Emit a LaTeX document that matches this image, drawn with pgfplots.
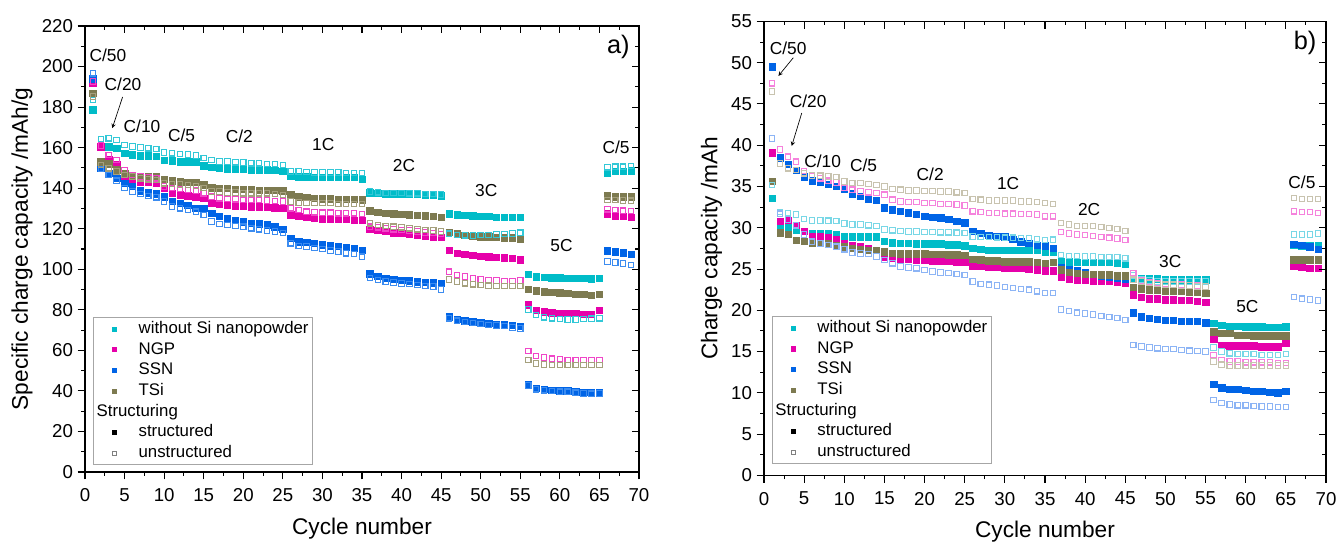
\documentclass[border=0pt]{standalone}
\usepackage{pgfplots}
\pgfplotsset{compat=1.18}
\usepackage{pgfplotstable}
\usepackage{fontspec}
\setmainfont{Liberation Sans}

\definecolor{cTF}{RGB}{0,188,200}
\definecolor{cNF}{RGB}{230,0,170}
\definecolor{cSF}{RGB}{0,100,230}
\definecolor{cTSF}{RGB}{125,122,80}
\definecolor{cTOa}{RGB}{50,200,215}
\definecolor{cNOa}{RGB}{240,70,200}
\definecolor{cSOa}{RGB}{60,140,240}
\definecolor{cTSOa}{RGB}{165,160,125}
\definecolor{cTOb}{RGB}{120,215,230}
\definecolor{cNOb}{RGB}{245,130,220}
\definecolor{cSOb}{RGB}{140,180,245}
\definecolor{cTSOb}{RGB}{200,195,175}

\pgfplotstableread{
c TF TO NF NO SF SO TSF TSO
1 178.6 183.5 191.8 192.6 193.9 196.7 186.8 185.2
2 160.5 164.3 160.5 161.0 149.8 149.5 153.1 151.5
3 160.5 164.6 154.3 156.4 147.4 146.5 152.0 149.8
4 159.7 163.8 151.5 153.9 144.9 143.7 149.0 148.2
5 157.2 161.3 144.9 149.0 142.4 140.0 147.4 146.5
6 156.4 160.5 144.4 146.5 140.8 138.3 146.5 145.7
7 155.9 160.0 143.2 145.7 138.8 137.2 146.0 144.9
8 155.9 159.7 142.8 145.2 137.8 136.2 146.0 144.4
9 155.6 159.4 142.4 144.9 137.2 135.5 146.0 144.1
10 153.9 157.6 140.0 140.8 135.8 133.4 144.4 142.4
11 153.6 157.2 137.5 140.0 133.4 130.9 143.7 142.1
12 153.1 156.9 136.7 139.5 132.6 130.1 143.2 141.8
13 153.1 156.6 136.2 139.1 131.7 129.3 142.9 141.6
14 153.1 156.2 135.8 138.8 130.1 128.4 142.9 141.1
15 151.1 154.8 135.0 137.5 130.1 126.8 141.6 140.0
16 150.3 153.9 132.6 135.8 127.6 123.5 140.3 138.3
17 149.8 153.1 132.1 135.0 126.0 122.4 140.0 138.3
18 149.5 153.1 131.7 134.7 125.2 121.9 140.0 137.8
19 149.3 152.8 131.4 134.5 124.3 121.4 139.6 137.8
20 149.3 152.6 131.2 134.2 123.5 121.0 139.6 137.5
21 149.0 152.3 130.9 134.2 122.7 120.2 139.5 137.5
22 149.0 152.3 130.9 134.2 122.4 119.7 139.1 137.5
23 149.0 152.0 130.6 133.9 121.9 119.1 139.1 137.5
24 148.7 152.0 130.4 133.7 121.0 118.6 139.1 137.2
25 148.2 151.5 130.1 133.4 119.7 117.8 138.8 136.7
26 146.0 148.2 126.8 130.1 115.3 112.8 136.7 133.4
27 145.7 148.2 126.0 129.3 113.6 111.5 135.8 132.9
28 145.7 147.9 125.6 128.4 113.2 111.2 135.4 132.6
29 145.4 147.7 125.2 128.1 112.8 110.4 135.0 132.6
30 145.4 147.7 124.8 127.9 112.0 109.9 134.7 132.6
31 145.4 147.7 124.7 127.9 111.5 109.2 134.7 132.6
32 145.4 147.7 124.7 127.6 111.2 108.7 134.5 132.2
33 145.4 147.4 124.7 127.6 110.8 107.9 134.5 132.2
34 145.4 147.4 124.3 127.6 110.4 107.6 134.5 132.2
35 144.4 147.4 124.3 127.3 109.5 106.2 134.2 132.2
36 137.8 138.3 119.7 121.0 97.7 95.6 128.9 122.7
37 137.5 138.0 119.1 120.7 96.5 94.8 128.1 121.9
38 137.2 137.7 118.6 120.2 95.5 93.9 127.6 121.4
39 137.2 137.7 118.1 119.7 95.0 93.4 127.3 121.0
40 137.2 137.7 117.8 119.4 94.7 93.0 127.1 120.7
41 137.0 137.5 117.4 119.1 94.4 92.7 126.8 120.2
42 137.0 137.5 116.9 118.6 93.9 92.2 126.5 119.7
43 136.7 137.2 116.4 118.1 93.5 91.7 126.3 119.4
44 136.7 137.2 116.1 117.8 93.4 91.5 126.0 119.1
45 136.3 136.8 115.8 117.4 93.0 90.1 125.6 118.6
46 127.3 117.5 109.5 98.8 76.6 75.8 118.3 95.0
47 126.8 117.0 107.9 97.2 75.3 74.6 117.6 93.9
48 126.5 116.8 107.4 96.4 74.6 74.0 116.9 93.1
49 126.3 116.6 107.0 95.5 74.1 73.5 116.4 92.6
50 126.0 117.0 106.5 95.0 73.7 73.0 116.1 92.2
51 126.0 117.0 106.2 94.7 73.3 72.6 116.0 91.9
52 125.6 117.2 105.9 94.4 73.0 72.3 115.8 91.7
53 125.6 117.4 105.7 94.2 72.8 72.0 115.5 91.7
54 125.6 117.6 105.4 94.2 72.5 71.3 115.5 91.7
55 125.6 118.0 104.6 94.4 72.0 70.8 115.0 91.7
56 97.5 80.2 82.4 59.7 43.2 42.7 90.1 55.2
57 96.3 77.4 79.9 57.2 41.3 40.8 89.3 53.6
58 96.0 76.3 79.1 56.4 40.8 40.3 88.9 53.1
59 95.9 75.8 78.6 55.9 40.4 39.9 88.6 52.8
60 95.9 75.5 78.3 55.6 40.1 39.6 88.5 52.8
61 95.7 75.3 78.3 55.2 40.1 39.6 88.1 52.8
62 95.5 75.3 78.3 55.2 39.6 39.1 87.8 52.8
63 95.5 75.5 77.9 55.2 39.3 38.8 87.8 52.8
64 95.4 75.6 77.9 55.2 39.1 38.6 87.3 52.8
65 95.5 75.8 79.9 55.2 39.3 38.8 87.8 52.8
66 147.5 150.3 127.3 129.6 109.2 103.8 136.2 134.2
67 148.2 150.6 126.3 129.3 108.7 103.4 135.8 134.2
68 148.2 150.6 126.0 128.9 108.2 102.9 135.8 134.0
69 148.5 151.0 125.6 128.8 107.5 102.1 135.8 133.8
}\dataA

\pgfplotstableread{
c TF TO NF NO SF SO TSF TSO
1 33.6 35.2 39.1 47.5 49.5 40.8 35.6 46.5
2 30.2 31.9 30.8 39.5 38.5 31.7 29.4 37.8
3 30.1 31.8 30.9 38.6 37.7 31.0 29.2 37.2
4 29.7 31.6 30.3 38.0 37.0 30.3 28.5 37.0
5 29.6 31.05 29.6 36.9 36.2 29.2 28.35 36.6
6 29.35 30.9 29.0 36.3 35.7 28.3 28.1 36.35
7 29.3 30.9 28.9 36.0 35.5 28.1 28.1 36.3
8 29.3 30.85 28.8 35.7 35.3 27.9 28.1 36.2
9 29.15 30.8 28.6 35.5 35.0 27.7 27.9 36.15
10 28.95 30.5 28.1 34.8 34.7 27.4 27.7 35.6
11 28.9 30.4 27.8 34.6 34.1 27.0 27.5 35.4
12 28.9 30.4 27.7 34.4 33.8 26.9 27.4 35.4
13 28.9 30.3 27.5 34.3 33.5 26.8 27.3 35.3
14 28.9 30.2 27.3 34.2 33.3 26.5 27.25 35.2
15 28.35 29.8 26.5 34.0 32.4 26.1 27.1 35.0
16 28.2 29.7 26.3 33.4 32.2 25.7 26.9 34.7
17 28.1 29.6 26.2 33.2 32.0 25.3 26.85 34.6
18 28.1 29.56 26.2 33.1 31.8 25.2 26.85 34.5
19 28.05 29.55 26.1 33.1 31.6 25.1 26.85 34.5
20 28.05 29.5 26.1 33.0 31.4 24.9 26.85 34.45
21 28.05 29.5 26.0 33.0 31.3 24.7 26.8 34.45
22 28.05 29.45 26.0 32.9 31.2 24.6 26.8 34.4
23 27.95 29.45 26.0 32.9 31.0 24.5 26.75 34.4
24 27.95 29.4 25.9 32.8 30.8 24.4 26.75 34.3
25 27.8 29.35 25.9 32.7 30.6 24.3 26.7 34.2
26 27.5 28.95 25.4 32.0 29.6 23.5 26.2 33.5
27 27.4 28.9 25.3 31.9 29.3 23.2 26.1 33.4
28 27.3 28.9 25.2 31.8 29.1 23.1 26.0 33.3
29 27.3 28.85 25.2 31.8 29.0 23.0 26.0 33.3
30 27.3 28.8 25.1 31.7 28.9 22.8 25.9 33.3
31 27.3 28.8 25.1 31.7 28.6 22.7 25.9 33.3
32 27.3 28.75 25.1 31.66 28.3 22.6 25.9 33.2
33 27.3 28.7 25.0 31.66 28.1 22.5 25.9 33.2
34 27.3 28.6 24.9 31.6 27.9 22.3 25.8 33.1
35 27.0 28.5 24.8 31.4 27.8 22.1 25.7 33.0
36 27.1 28.55 24.8 31.4 27.5 22.1 25.8 32.9
37 25.9 26.7 24.0 29.5 25.2 20.1 24.9 30.6
38 25.9 26.6 23.8 29.3 25.0 19.9 24.6 30.4
39 25.85 26.6 23.7 29.2 24.8 19.7 24.5 30.2
40 25.85 26.5 23.7 29.1 24.6 19.6 24.4 30.2
41 25.85 26.5 23.6 29.0 24.4 19.5 24.4 30.2
42 25.8 26.45 23.6 28.9 24.2 19.3 24.3 30.1
43 25.8 26.45 23.5 28.8 24.0 19.2 24.3 29.95
44 25.7 26.45 23.4 28.7 23.9 19.05 24.2 29.85
45 25.65 26.3 23.3 28.5 23.8 18.85 24.2 29.6
46 23.9 24.2 21.9 24.5 19.7 15.8 22.8 23.7
47 23.8 23.7 21.6 23.6 19.2 15.6 22.6 23.5
48 23.8 23.6 21.4 23.4 19.0 15.5 22.5 23.3
49 23.8 23.5 21.4 23.3 18.9 15.4 22.4 23.2
50 23.7 23.5 21.3 23.2 18.8 15.3 22.3 23.1
51 23.7 23.5 21.3 23.1 18.8 15.3 22.3 23.1
52 23.7 23.5 21.2 23.1 18.7 15.2 22.3 23.0
53 23.7 23.5 21.2 23.0 18.7 15.1 22.2 23.0
54 23.7 23.5 21.1 23.0 18.65 15.05 22.2 22.9
55 23.7 23.5 21.0 22.9 18.5 15.0 22.1 22.9
56 18.4 15.5 16.5 14.6 11.05 9.15 17.4 13.8
57 18.2 15.0 15.8 14.0 10.6 8.75 17.2 13.4
58 18.1 14.8 15.7 13.8 10.4 8.6 17.2 13.3
59 18.1 14.7 15.7 13.8 10.4 8.5 17.0 13.3
60 18.0 14.7 15.7 13.7 10.3 8.5 17.0 13.3
61 18.0 14.7 15.7 13.7 10.2 8.4 16.9 13.3
62 18.0 14.6 15.6 13.7 10.2 8.35 16.9 13.3
63 17.95 14.6 15.6 13.7 10.1 8.35 16.9 13.3
64 17.95 14.6 15.6 13.6 10.0 8.3 16.9 13.3
65 18.0 14.7 16.0 13.6 10.2 8.3 16.9 13.3
66 27.95 29.2 25.4 32.0 28.0 21.6 26.1 33.6
67 27.8 29.2 25.2 31.9 27.9 21.4 26.1 33.5
68 27.8 29.2 25.1 31.9 27.7 21.3 26.1 33.5
69 27.8 29.3 25.1 31.8 27.4 21.2 26.1 33.5
}\dataB

\tikzset{ann/.style={font=\fontsize{13}{15}\selectfont}}
\pgfplotsset{
  base/.style={
    scale only axis, xmin=0, xmax=70, xtick={0,5,...,70}, minor x tick num=1,
    minor y tick num=1,
    major tick length=5.5pt, minor tick length=3pt,
    every tick/.style={black, line width=0.8pt},
    axis line style={line width=0.9pt},
    /pgf/number format/assume math mode=true,
  },
  mainax/.style={base,
    xtick pos=bottom, ytick pos=left, tick align=outside,
    ticklabel style={font=\fontsize{14}{16}\selectfont},
    xticklabel style={yshift=-3.5pt},
    label style={font=\fontsize{17}{19}\selectfont},
    xlabel={Cycle number},
    xlabel style={yshift=-5pt},
    legend cell align=left,
    legend image code/.code={%
      \path[draw=none, fill=none] (0pt,0pt) -- (31pt,0pt);
      \draw[#1] plot coordinates {(15pt,0pt)};},
    legend image post style={mark size=1.6pt},
    legend style={draw=gray!70, line width=0.5pt, font=\fontsize{12.6}{14.5}\selectfont,
      row sep=0pt, inner xsep=1pt, inner ysep=1pt, anchor=north west,
      nodes={text height=9pt, text depth=2.5pt, inner ysep=2pt, inner xsep=2pt}},
  },
  overax/.style={base,
    xtick pos=top, ytick pos=right, tick align=inside,
    xticklabels={}, yticklabels={}, axis line style={draw=none},
  },
  fil/.style={only marks, mark=square*, mark size=2.4pt, mark options={draw=#1, fill=#1}},
  opn/.style={only marks, mark=square, mark size=2.05pt, forget plot, mark options={draw=#1, fill=white, line width=0.85pt}},
}

\begin{document}
\begin{tikzpicture}
\path[use as bounding box] (0,0) rectangle (1004.25pt,406.5pt);

% ---------- panel a ----------
\begin{axis}[mainax, at={(63.75pt,52.5pt)}, anchor=south west,
  width=415.5pt, height=334.5pt, ymin=0, ymax=220, ytick={0,20,...,220},
  ylabel={Specific charge capacity /mAh/g},
  legend style={at={(0.0144,0.3475)}}]
\addplot[fil=cTF] table[x=c,y=TF]{\dataA}; \addlegendentry{without Si nanopowder}
\addplot[fil=cNF] table[x=c,y=NF]{\dataA}; \addlegendentry{NGP}
\addplot[fil=cSF] table[x=c,y=SF]{\dataA}; \addlegendentry{SSN}
\addplot[fil=cTSF] table[x=c,y=TSF]{\dataA}; \addlegendentry{TSi}
\addplot[opn=cTOa] table[x=c,y=TO]{\dataA};
\addplot[opn=cNOa] table[x=c,y=NO]{\dataA};
\addplot[opn=cSOa] table[x=c,y=SO]{\dataA};
\addplot[opn=cTSOa] table[x=c,y=TSO]{\dataA};
\addlegendimage{empty legend}\addlegendentry{\hspace*{-31.5pt}Structuring}
\addlegendimage{only marks, mark=square*, black}\addlegendentry{structured}
\addlegendimage{only marks, mark=square, mark options={line width=0.5pt}, gray}\addlegendentry{unstructured}
\node[ann] at (axis cs:2.9,205.7) {C/50};
\node[ann] at (axis cs:4.8,191) {C/20};
\draw[-stealth, line width=0.5pt] (axis cs:4.75,185) -- (axis cs:3.45,169.6);
\node[ann] at (axis cs:7.2,170.4) {C/10};
\node[ann] at (axis cs:12.2,166) {C/5};
\node[ann] at (axis cs:19.5,165.4) {C/2};
\node[ann] at (axis cs:30.1,161.3) {1C};
\node[ann] at (axis cs:40.3,151) {2C};
\node[ann] at (axis cs:50.7,138.8) {3C};
\node[ann] at (axis cs:60.2,111.5) {5C};
\node[ann] at (axis cs:67.1,160.2) {C/5};
\node[font=\fontsize{19}{21}\selectfont] at (axis cs:67.4,209.8) {a)};
\end{axis}
\begin{axis}[overax, at={(63.75pt,52.5pt)}, anchor=south west,
  width=415.5pt, height=334.5pt, ymin=0, ymax=220, ytick={0,20,...,220}]
\end{axis}

% ---------- panel b ----------
\begin{axis}[mainax, at={(573pt,49.95pt)}, anchor=south west,
  width=421.5pt, height=340.5pt, ymin=0, ymax=55, ytick={0,5,...,55},
  ylabel={Charge capacity /mAh},
  legend style={at={(0.0137,0.351)}}]
\addplot[fil=cTF] table[x=c,y=TF]{\dataB}; \addlegendentry{without Si nanopowder}
\addplot[fil=cNF] table[x=c,y=NF]{\dataB}; \addlegendentry{NGP}
\addplot[fil=cSF] table[x=c,y=SF]{\dataB}; \addlegendentry{SSN}
\addplot[fil=cTSF] table[x=c,y=TSF]{\dataB}; \addlegendentry{TSi}
\addplot[opn=cTOb] table[x=c,y=TO]{\dataB};
\addplot[opn=cNOb] table[x=c,y=NO]{\dataB};
\addplot[opn=cSOb] table[x=c,y=SO]{\dataB};
\addplot[opn=cTSOb] table[x=c,y=TSO]{\dataB};
\addlegendimage{empty legend}\addlegendentry{\hspace*{-31.5pt}Structuring}
\addlegendimage{only marks, mark=square*, black}\addlegendentry{structured}
\addlegendimage{only marks, mark=square, mark options={line width=0.5pt}, gray}\addlegendentry{unstructured}
\node[ann] at (axis cs:3.0,51.8) {C/50};
\draw[-stealth, line width=0.5pt] (axis cs:3.65,50.6) -- (axis cs:1.8,48.4);
\node[ann] at (axis cs:5.5,45.3) {C/20};
\draw[-stealth, line width=0.5pt] (axis cs:4.7,43.9) -- (axis cs:3.45,39.9);
\node[ann] at (axis cs:7.3,38.0) {C/10};
\node[ann] at (axis cs:12.4,37.6) {C/5};
\node[ann] at (axis cs:20.7,36.5) {C/2};
\node[ann] at (axis cs:30.4,35.4) {1C};
\node[ann] at (axis cs:40.5,32.2) {2C};
\node[ann] at (axis cs:50.6,25.9) {3C};
\node[ann] at (axis cs:60.2,20.4) {5C};
\node[ann] at (axis cs:67.0,35.5) {C/5};
\node[font=\fontsize{19}{21}\selectfont] at (axis cs:67.4,52.4) {b)};
\end{axis}
\begin{axis}[overax, at={(573pt,49.95pt)}, anchor=south west,
  width=421.5pt, height=340.5pt, ymin=0, ymax=55, ytick={0,5,...,55}]
\end{axis}
\end{tikzpicture}
\end{document}
